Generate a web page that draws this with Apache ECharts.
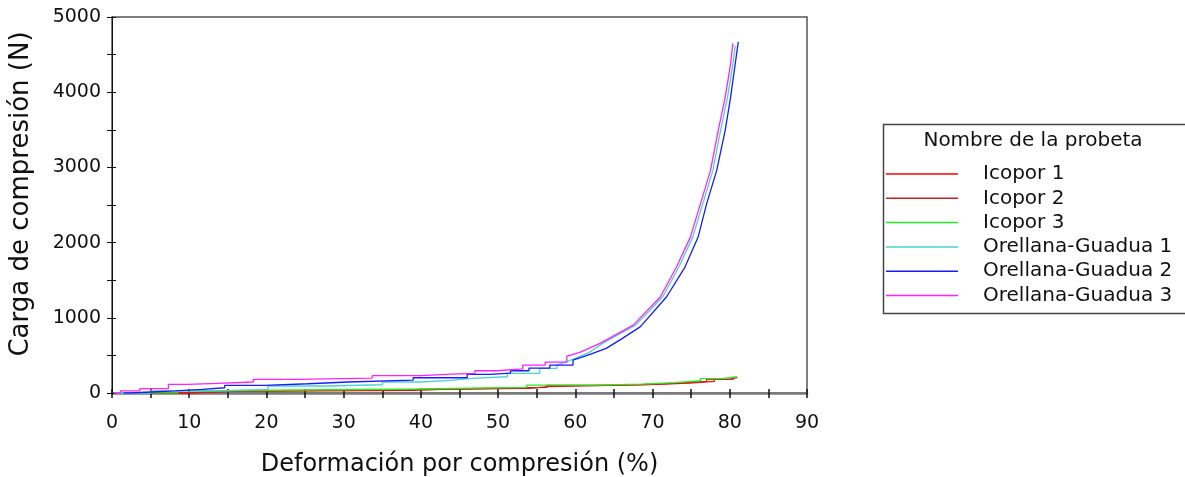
<!DOCTYPE html>
<html>
<head>
<meta charset="utf-8">
<script src="https://cdn.jsdelivr.net/npm/echarts@6/dist/echarts.min.js"></script>
<style>
html,body{margin:0;padding:0;background:#fff;overflow:hidden;}
#chart{width:1185px;height:477px;}
</style>
</head>
<body>
<div id="chart"></div>
<script>
// ---- Data (deformation %, load N) ----
const seriesNames = ['Icopor 1', 'Icopor 2', 'Icopor 3', 'Orellana-Guadua 1', 'Orellana-Guadua 2', 'Orellana-Guadua 3'];

const icopor1 = [[5,0],[10,0],[10,22],[15.5,22],[15.5,35],[39,35],[39,50],[42.7,50],[42.7,74],[56.3,74],[56.3,101],[65,101],[65,115],[70.5,115],[70.5,132],[74.7,132],[74.7,155],[78,155],[78,182],[80.4,182],[80.4,205]];
const icopor2 = [[3,0],[9,0],[9,25],[16,25],[16,45],[38.5,45],[38.5,62],[54,62],[54,84],[56.5,84],[56.5,100],[63,100],[63,113],[69,113],[69,130],[73.5,130],[73.5,155],[77,155],[77,182],[80,182],[80,208],[81,208]];
const icopor3 = [[1,0],[8.5,0],[8.5,30],[13.7,30],[13.7,53],[39.5,53],[39.5,76],[53.7,76],[53.7,106],[62.8,106],[62.8,119],[68.6,119],[68.6,137],[72.9,137],[72.9,163],[76.2,163],[76.2,190],[79,190],[79,216],[80.9,216]];
const og1 = [[0.3,0],[5,0],[5,27],[14,27],[14,49],[20.2,49],[20.2,93],[27.8,93],[27.8,110],[35,110],[35,146],[39.9,146],[39.9,168],[43.8,168],[43.8,194],[46.6,194],[46.6,216],[51.2,216],[51.2,261],[55.4,261],[55.4,327],[57.6,327],[57.6,371],[60,460],[61.8,540],[63.5,659],[67.8,902],[71.3,1277],[73.4,1675],[75.2,2073],[76.5,2515],[77.8,2957],[78.8,3488],[79.7,3929],[80.4,4372],[80.7,4620]];
const og2 = [[1.5,0],[2.3,0],[2.3,13],[5,13],[5,27],[8.2,27],[8.2,49],[11.7,49],[11.7,70],[14.6,70],[14.6,102],[19.8,102],[19.8,123],[25.4,123],[25.4,146],[30.6,146],[30.6,172],[39,172],[39,203],[46,203],[46,248],[49,248],[49,265],[51.6,265],[51.6,296],[54,296],[54,332],[56.7,332],[56.7,371],[59.7,371],[59.7,438],[61.9,513],[64,593],[66,720],[68.4,879],[71.8,1277],[74.2,1675],[75.9,2073],[77,2515],[78.3,2957],[79.4,3488],[80.1,3929],[80.7,4372],[81.1,4670]];
const og3 = [[0.3,0],[1.1,0],[1.1,27],[3.6,27],[3.6,57],[7.3,57],[7.3,115],[9.8,115],[9.8,128],[13.7,128],[13.7,146],[18.3,146],[18.3,182],[24,182],[24,199],[33.7,199],[33.7,230],[40,230],[40,252],[44,252],[44,261],[47,261],[47,296],[49.9,296],[49.9,322],[53.2,322],[53.2,371],[56.1,371],[56.1,411],[58.9,411],[58.9,491],[60.6,540],[63.2,659],[67.5,902],[71,1277],[73.1,1675],[74.9,2073],[76.2,2515],[77.5,2957],[78.5,3488],[79.4,3929],[80.1,4372],[80.4,4650]];

const xTicks = [0,10,20,30,40,50,60,70,80,90];
const yTicks = [0,1000,2000,3000,4000,5000];

const allData = [icopor1, icopor2, icopor3, og1, og2, og3];
const colors = ['#ff0000', '#c82020', '#22ee22', '#48d4d0', '#1a1aff', '#ff22ff'];

const FONT = 'DejaVu Sans';
const chart = echarts.init(document.getElementById('chart'), null, {renderer: 'canvas', width: 1185, height: 477});

const xBase = {
  type: 'value', min: xTicks[0], max: xTicks[xTicks.length - 1], interval: 5,
  splitLine: {show: false}
};
const yBase = {
  type: 'value', min: yTicks[0], max: yTicks[yTicks.length - 1], interval: 500,
  splitLine: {show: false}
};

chart.setOption({
  animation: false,
  backgroundColor: '#ffffff',
  textStyle: {fontFamily: FONT},
  grid: {left: 112, top: 17, width: 695, height: 376, show: true, borderColor: '#555', borderWidth: 1.5,
    containLabel: false, outerBoundsMode: 'none'},
  xAxis: [
    Object.assign({}, xBase, {
      position: 'bottom',
      name: 'Deformación por compresión (%)',
      nameLocation: 'middle', nameGap: 60,
      nameTextStyle: {fontFamily: FONT, fontSize: 24, color: '#111'},
      axisLine: {show: true, lineStyle: {color: '#7a7a7a', width: 2.5}},
      axisTick: {show: true, inside: false, length: 5, lineStyle: {color: '#111', width: 1.5}},
      axisLabel: {show: true, margin: 21, fontFamily: FONT, fontSize: 19, color: '#111',
        formatter: v => (xTicks.indexOf(v) >= 0 ? String(v) : '')}
    }),
    Object.assign({}, xBase, {
      position: 'bottom',
      axisLine: {show: false},
      axisTick: {show: true, inside: true, length: 4, lineStyle: {color: '#111', width: 1.5}},
      axisLabel: {show: false}
    })
  ],
  yAxis: [
    Object.assign({}, yBase, {
      position: 'left',
      axisLine: {show: true, lineStyle: {color: '#111', width: 1}},
      axisTick: {show: true, inside: false, length: 5, lineStyle: {color: '#111', width: 1}},
      axisLabel: {show: true, margin: 11, fontFamily: FONT, fontSize: 19, color: '#111',
        formatter: v => (yTicks.indexOf(v) >= 0 ? String(v) : '')}
    }),
    Object.assign({}, yBase, {
      position: 'left',
      axisLine: {show: false},
      axisTick: {show: true, inside: true, length: 4, lineStyle: {color: '#111', width: 1}},
      axisLabel: {show: false}
    })
  ],
  legend: {
    orient: 'vertical',
    left: 886, top: 164, padding: 0,
    itemWidth: 72, itemHeight: 1.5, itemGap: 4.3,
    icon: 'rect',
    data: seriesNames,
    textStyle: {fontFamily: FONT, fontSize: 20, color: '#111', lineHeight: 20, padding: [0, 0, 0, 20]}
  },
  graphic: [
    {type: 'rect', left: 881, top: 122, shape: {width: 303, height: 189},
      style: {fill: 'none', stroke: '#444', lineWidth: 1.5}, z: 1},
    {type: 'text', x: 1033, y: 141,
      style: {text: 'Nombre de la probeta', font: '20px "DejaVu Sans"', fill: '#111', align: 'center', verticalAlign: 'middle'}},
    {type: 'text', x: 21, y: 194, rotation: Math.PI / 2,
      style: {text: 'Carga de compresión (N)', font: '26px "DejaVu Sans"', fill: '#111', align: 'center', verticalAlign: 'middle'}}
  ],
  series: allData.map((d, i) => ({
    name: seriesNames[i],
    type: 'line',
    xAxisIndex: 0, yAxisIndex: 0,
    data: d,
    showSymbol: false,
    symbol: 'none',
    color: colors[i],
    lineStyle: {width: 1.3, color: colors[i]},
    emphasis: {disabled: true}
  }))
});
</script>
</body>
</html>
